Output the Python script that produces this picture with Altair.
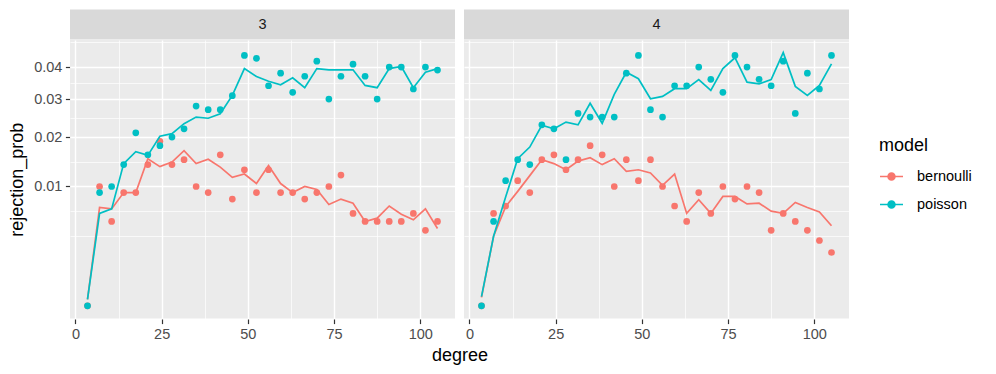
import altair as alt
import pandas as pd

degree = [3.5, 7, 10.5, 14, 17.5, 21, 24.5, 28, 31.5, 35, 38.5, 42, 45.5, 49, 52.5,
          56, 59.5, 63, 66.5, 70, 73.5, 77, 80.5, 84, 87.5, 91, 94.5, 98, 101.5, 105]

panels = ["3", "4"]
models = ["bernoulli", "poisson"]

# panel 3
p3_bern_obs = [0.0, 0.010, 0.005, 0.009, 0.009, 0.014, 0.019, 0.014, 0.015, 0.010,
               0.009, 0.016, 0.008, 0.013, 0.009, 0.013, 0.009, 0.009, 0.008, 0.009,
               0.010, 0.012, 0.006, 0.005, 0.005, 0.005, 0.005, 0.006, 0.004, 0.005]
p3_bern_fit = [0.00003, 0.0068, 0.0066, 0.0090, 0.0090, 0.0152, 0.0136, 0.0145, 0.0169, 0.0142,
               0.0151, 0.0135, 0.0116, 0.0122, 0.0105, 0.0138, 0.0105, 0.0090, 0.0100, 0.0095,
               0.0072, 0.0080, 0.0074, 0.0050, 0.0054, 0.0070, 0.0059, 0.0052, 0.0066, 0.0042]
p3_pois_obs = [0.0, 0.009, 0.010, 0.014, 0.021, 0.016, 0.018, 0.020, 0.022, 0.028,
               0.027, 0.027, 0.031, 0.044, 0.043, 0.034, 0.038, 0.032, 0.037, 0.042,
               0.030, 0.037, 0.041, 0.037, 0.030, 0.040, 0.040, 0.033, 0.040, 0.039]
p3_pois_fit = [0.00003, 0.0060, 0.0066, 0.0142, 0.0167, 0.0159, 0.0202, 0.0208, 0.0233, 0.0250,
               0.0247, 0.0259, 0.0311, 0.0395, 0.0369, 0.0354, 0.0343, 0.0365, 0.0334, 0.0395,
               0.0391, 0.0391, 0.0391, 0.0341, 0.0334, 0.0395, 0.0402, 0.0334, 0.0383, 0.0395]

# panel 4
p4_bern_obs = [0.0, 0.006, 0.007, 0.011, 0.009, 0.015, 0.016, 0.013, 0.015, 0.018,
               0.016, 0.010, 0.015, 0.011, 0.015, 0.010, 0.007, 0.005, 0.009, 0.006,
               0.010, 0.008, 0.010, 0.009, 0.004, 0.006, 0.005, 0.004, 0.003, 0.002]
p4_bern_fit = [0.00005, 0.0034, 0.0069, 0.0092, 0.0119, 0.0150, 0.0142, 0.0130, 0.0147, 0.0154,
               0.0140, 0.0152, 0.0127, 0.0130, 0.0124, 0.0102, 0.0122, 0.0060, 0.0079, 0.0060,
               0.0084, 0.0084, 0.0073, 0.0074, 0.0063, 0.0060, 0.0075, 0.0068, 0.0062, 0.0045]
p4_pois_obs = [0.0, 0.005, 0.011, 0.015, 0.014, 0.023, 0.022, 0.015, 0.026, 0.025,
               0.025, 0.025, 0.038, 0.044, 0.027, 0.025, 0.034, 0.034, 0.040, 0.036,
               0.032, 0.044, 0.040, 0.036, 0.034, 0.042, 0.026, 0.038, 0.033, 0.044]
p4_pois_fit = [0.00006, 0.0034, 0.0083, 0.0152, 0.0177, 0.0229, 0.0220, 0.0237, 0.0230, 0.0288,
               0.0234, 0.0314, 0.0383, 0.0362, 0.0301, 0.0308, 0.0331, 0.0331, 0.0359, 0.0326,
               0.0395, 0.0432, 0.0351, 0.0346, 0.0359, 0.0450, 0.0338, 0.0311, 0.0341, 0.0411]

y_major = [0.01, 0.02, 0.03, 0.04]
y_minor = [0.0034315, 0.0062868, 0.014571, 0.024747, 0.03482, 0.048713]
x_major = [0, 25, 50, 75, 100]
x_minor = [12.5, 37.5, 62.5, 87.5]

series = [
    ("3", "bernoulli", p3_bern_obs, p3_bern_fit),
    ("3", "poisson", p3_pois_obs, p3_pois_fit),
    ("4", "bernoulli", p4_bern_obs, p4_bern_fit),
    ("4", "poisson", p4_pois_obs, p4_pois_fit),
]
rows = []
for panel, model, obs, fit in series:
    for d, o, f in zip(degree, obs, fit):
        rows.append({"panel": panel, "model": model, "degree": d, "obs": o, "fit": f})
df = pd.DataFrame(rows)

W, H = 385, 278.5
FONT = "Liberation Sans"
LABEL_SIZE = 14.5
TITLE_SIZE = 18

xscale = alt.Scale(domain=[-1.575, 110.075], nice=False, zero=False)
yscale = alt.Scale(type="sqrt", domain=[-0.000112, 0.0496], nice=False, zero=False)

xaxis = alt.Axis(
    values=sorted(x_major + x_minor),
    labelExpr="datum.value % 25 == 0 ? format(datum.value, 'd') : ''",
    gridWidth={"condition": {"test": "datum.value % 25 == 0", "value": 1.4}, "value": 0.7},
    tickOpacity={"condition": {"test": "datum.value % 25 == 0", "value": 1}, "value": 0},
    title=None,
)
ytest = "abs(datum.value * 100 - round(datum.value * 100)) < 0.001"
yaxis = alt.Axis(
    values=sorted(y_major + y_minor),
    labelExpr=ytest + " ? format(datum.value, '.2f') : ''",
    gridWidth={"condition": {"test": ytest, "value": 1.4}, "value": 0.7},
    tickOpacity={"condition": {"test": ytest, "value": 1}, "value": 0},
    title="rejection_prob",
    titlePadding=7,
)

color = alt.Color(
    "model:N",
    scale=alt.Scale(domain=models, range=["#F8766D", "#00BFC4"]),
    legend=alt.Legend(
        title="model",
        orient="none",
        legendX=809,
        legendY=97,
        symbolType="M-1,0L1,0M0.3,0A0.3,0.3,0,1,1,-0.3,0A0.3,0.3,0,1,1,0.3,0Z",
        symbolSize=529,
        symbolStrokeWidth=1.6,
        labelOffset=13,
        rowPadding=8,
        titlePadding=9,
        padding=0,
    ),
)

base = alt.Chart()

strip_bg = base.transform_aggregate(n="count()", groupby=["panel"]).mark_rect(
    color="#D9D9D9"
).encode(x=alt.value(0), x2=alt.value(W), y=alt.value(-30.5), y2=alt.value(-0.5))

strip_txt = base.transform_aggregate(n="count()", groupby=["panel"]).mark_text(
    font=FONT, fontSize=LABEL_SIZE, color="#1A1A1A", baseline="middle", align="center"
).encode(text="panel:N", x=alt.value(W / 2), y=alt.value(-15.5))

points = base.mark_point(filled=True, size=45, opacity=1).encode(
    x=alt.X("degree:Q", scale=xscale, axis=xaxis),
    y=alt.Y("obs:Q", scale=yscale, axis=yaxis),
    color=color,
)

lines = base.mark_line(strokeWidth=1.7).encode(
    x=alt.X("degree:Q", scale=xscale, axis=xaxis),
    y=alt.Y("fit:Q", scale=yscale, axis=yaxis),
    color=color,
)

chart = alt.layer(strip_bg, strip_txt, points, lines, data=df).properties(
    width=W, height=H
).facet(
    column=alt.Column(
        "panel:N",
        title="degree",
        header=alt.Header(
            labels=False,
            titleOrient="bottom",
            titleFont=FONT,
            titleFontSize=TITLE_SIZE,
            titleFontWeight="normal",
            titleColor="#000000",
            titlePadding=-4,
        ),
    ),
    spacing=9,
).configure(
    font=FONT,
    padding={"left": 0, "top": 1, "right": 5, "bottom": 5},
).configure_view(
    fill="#EBEBEB", stroke=None
).configure_axis(
    domain=False,
    gridColor="#FFFFFF",
    tickColor="#333333",
    tickSize=4.6,
    tickWidth=1.2,
    labelColor="#4D4D4D",
    labelFontSize=LABEL_SIZE,
    labelFont=FONT,
    labelPadding=3.5,
    titleFont=FONT,
    titleFontSize=TITLE_SIZE,
    titleFontWeight="normal",
    titleColor="#000000",
).configure_legend(
    titleFont=FONT,
    titleFontSize=TITLE_SIZE,
    titleFontWeight="normal",
    titleColor="#000000",
    labelFont=FONT,
    labelFontSize=LABEL_SIZE,
    labelColor="#000000",
)

chart.save("out.html", embed_options={"renderer": "svg", "actions": False})
